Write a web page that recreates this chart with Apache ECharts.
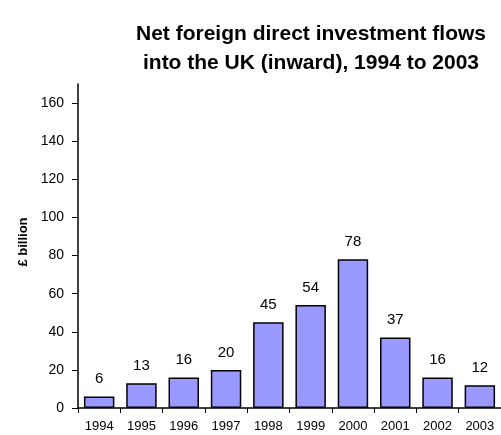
<!DOCTYPE html>
<html>
<head>
<meta charset="utf-8">
<script src="https://cdn.jsdelivr.net/npm/echarts@6/dist/echarts.min.js"></script>
<style>
  html, body { margin: 0; padding: 0; background: #fff; }
  #chart { width: 501px; height: 435px; }
</style>
</head>
<body>
<div id="chart"></div>
<script>
const years = ['1994', '1995', '1996', '1997', '1998', '1999', '2000', '2001', '2002', '2003'];
const flows = [6, 13, 16, 20, 45, 54, 78, 37, 16, 12];
const yTicks = [0, 20, 40, 60, 80, 100, 120, 140, 160];

const chart = echarts.init(document.getElementById('chart'));
const font = '"Liberation Sans", Arial, sans-serif';

chart.setOption({
  animation: false,
  title: {
    text: 'Net foreign direct investment flows\ninto the UK (inward), 1994 to 2003',
    left: 306,
    top: 15,
    textAlign: 'center',
    textStyle: {
      fontFamily: font,
      fontSize: 21,
      fontWeight: 'bold',
      color: '#000',
      lineHeight: 29
    }
  },
  grid: {
    left: 78,
    top: 84,
    width: 430,
    height: 324
  },
  xAxis: {
    type: 'category',
    data: years,
    axisLine: { lineStyle: { color: '#000', width: 1.5 } },
    axisTick: { show: true, length: 5, lineStyle: { color: '#000' } },
    axisLabel: { fontFamily: font, fontSize: 13, color: '#000', margin: 12 }
  },
  yAxis: {
    type: 'value',
    min: 0,
    max: 170,
    interval: 10,
    name: '£ billion',
    nameLocation: 'middle',
    nameRotate: 90,
    nameGap: 48,
    nameTextStyle: { fontFamily: font, fontSize: 13, fontWeight: 'bold', color: '#000', padding: [0, 0, 0, 8] },
    splitLine: { show: false },
    axisLine: { show: true, lineStyle: { color: '#000', width: 1.5 } },
    axisTick: { show: true, length: 6, customValues: yTicks, lineStyle: { color: '#000' } },
    axisLabel: { fontFamily: font, fontSize: 14, color: '#000', margin: 14, customValues: yTicks }
  },
  series: [
    {
      type: 'bar',
      data: flows,
      barCategoryGap: '28%',
      itemStyle: { color: '#9999FF', borderColor: '#000', borderWidth: 1.5 },
      label: {
        show: true,
        position: 'top',
        distance: 10,
        fontFamily: font,
        fontSize: 15,
        color: '#000'
      }
    }
  ]
});
</script>
</body>
</html>
